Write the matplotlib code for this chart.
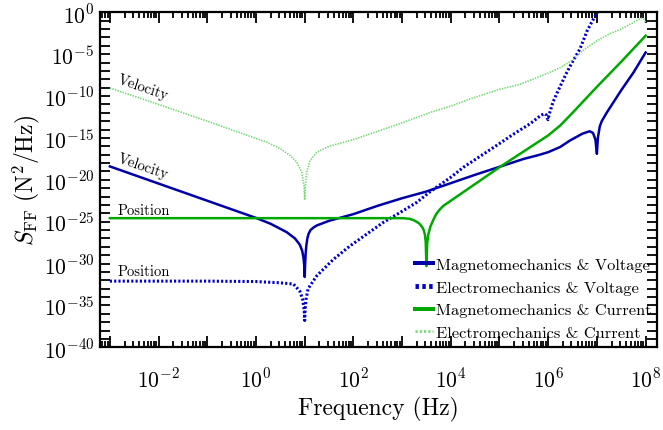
import numpy as np
import matplotlib
matplotlib.use("Agg")
import matplotlib.pyplot as plt
from matplotlib.ticker import FixedLocator, NullFormatter, LogLocator, FixedFormatter

plt.rcParams['font.family'] = 'serif'
plt.rcParams['font.serif'] = ['cmr10']
plt.rcParams['mathtext.fontset'] = 'cm'
plt.rcParams['axes.unicode_minus'] = False
plt.rcParams['axes.formatter.use_mathtext'] = True

# ---- data (log10 of frequency in Hz, log10 of S_FF in N^2/Hz) ----
mv_logf = [-3.0, -2.0, -1.0, 0.0, 0.3, 0.63, 0.8, 0.9, 0.95, 0.975, 0.99, 1.0, 1.01, 1.02, 1.035, 1.055,
           1.08, 1.12, 1.18, 1.25, 1.5, 2.0, 2.5, 3.0, 3.5, 4.0, 4.5, 5.0, 5.5, 5.8, 6.0, 6.24, 6.45, 6.7,
           6.85, 6.92, 6.97, 7.0, 7.02, 7.06, 7.1, 7.2, 7.5, 7.75, 8.0]
mv_logS = [-18.4, -20.45, -22.5, -24.55, -25.25, -26.25, -27.0, -27.75, -28.5, -29.3, -30.2, -31.6, -30.0,
           -28.8, -27.8, -27.0, -26.45, -26.0, -25.7, -25.45, -24.9, -24.1, -23.1, -22.2, -21.4, -20.4,
           -19.4, -18.45, -17.5, -17.05, -16.7, -16.1, -15.3, -14.5, -14.2, -14.4, -15.2, -16.9, -15.0,
           -13.6, -13.0, -12.0, -9.3, -7.2, -4.8]

ev_logf = [-3.0, -2.0, -1.0, 0.0, 0.5, 0.77, 0.9, 0.96, 0.99, 1.0, 1.01, 1.03, 1.07, 1.25, 1.59, 1.93,
           2.27, 2.61, 2.96, 3.3, 3.58, 4.0, 4.26, 4.94, 5.3, 5.63, 5.85, 5.92, 5.96, 5.995, 6.03, 6.1,
           6.2, 6.38, 6.5, 6.65, 6.8, 6.9, 7.0, 7.1]
ev_logS = [-32.1, -32.1, -32.1, -32.15, -32.3, -32.45, -33.3, -34.3, -35.5, -36.8, -35.5, -34.2, -33.0,
           -31.45, -29.5, -27.9, -26.5, -25.1, -23.9, -22.7, -21.4, -19.7, -18.5, -15.9, -14.5, -13.3,
           -12.3, -12.1, -12.25, -12.82, -12.0, -10.7, -9.4, -7.2, -5.9, -4.4, -2.2, -1.1, -0.1, 1.0]

mc_logf = [-3.0, -1.0, 1.0, 3.0, 3.15, 3.25, 3.35, 3.42, 3.45, 3.47, 3.485, 3.5, 3.515, 3.53, 3.54,
           3.58, 3.64, 3.7, 3.78, 3.85, 4.0, 4.5, 5.0, 5.5, 6.0, 6.25, 6.5, 7.0, 7.5, 8.0]
mc_logS = [-24.58, -24.58, -24.58, -24.58, -24.65, -24.85, -25.2, -25.7, -26.1, -26.6, -27.4, -30.3,
           -27.6, -26.9, -26.5, -25.6, -24.8, -24.1, -23.5, -23.1, -22.5, -20.5, -18.5, -16.6, -14.7,
           -13.5, -12.0, -8.9, -5.9, -2.8]

ec_logf = [-3.0, -2.0, -1.0, 0.0, 0.22, 0.49, 0.7, 0.84, 0.94, 0.985, 1.0, 1.015, 1.04, 1.11, 1.25,
           1.5, 2.0, 2.5, 3.0, 3.58, 4.0, 4.39, 5.0, 5.42, 6.0, 6.25, 6.5, 6.75, 7.0, 7.25, 7.5, 7.75,
           7.9, 7.96, 8.0]
ec_logS = [-9.04, -11.0, -13.0, -15.05, -15.5, -16.25, -17.1, -17.9, -19.1, -20.7, -22.4, -20.7, -19.1,
           -17.7, -16.7, -16.0, -15.2, -14.2, -13.2, -11.95, -11.2, -10.35, -9.2, -8.6, -7.25, -6.6,
           -5.7, -4.4, -3.4, -2.6, -2.0, -1.2, -0.7, -0.75, -1.2]

labels = ["Magnetomechanics & Voltage", "Electromechanics & Voltage",
          "Magnetomechanics & Current", "Electromechanics & Current"]

x_label_exps = [-2, 0, 2, 4, 6, 8]
y_label_exps = [-40, -35, -30, -25, -20, -15, -10, -5, 0]

fig = plt.figure(figsize=(6.63, 4.31), dpi=100)
ax = fig.add_axes([0.1508, 0.1919, 0.8397, 0.7772])

def p(a):
    return 10.0 ** np.asarray(a)

ax.loglog(p(mv_logf), p(mv_logS), color='#0000a8', lw=1.8, label=labels[0])
ax.loglog(p(ev_logf), p(ev_logS), color='#0000cc', lw=2.2, ls=(0, (0.7, 0.7)), label=labels[1])
ax.loglog(p(mc_logf), p(mc_logS), color='#00a800', lw=1.8, label=labels[2])
ax.loglog(p(ec_logf), p(ec_logS), color='#6fd86f', lw=1.2, ls=(0, (0.8, 0.8)), label=labels[3])

ax.set_xlim(10 ** -3.203, 10 ** 8.228)
ax.set_ylim(1e-40, 1e0)

# x ticks
xmaj = [10.0 ** k for k in range(-3, 9)]
ax.xaxis.set_major_locator(FixedLocator(xmaj))
ax.xaxis.set_major_formatter(FixedFormatter(
    [r'$10^{%d}$' % k if k in x_label_exps else '' for k in range(-3, 9)]))
ax.xaxis.set_minor_locator(LogLocator(base=10, subs=np.arange(2, 10), numticks=100))
ax.xaxis.set_minor_formatter(NullFormatter())

# y ticks
ymaj = [10.0 ** k for k in range(-40, 1)]
ax.yaxis.set_major_locator(FixedLocator(ymaj))
ax.yaxis.set_major_formatter(FixedFormatter(
    [r'$10^{%d}$' % k if k in y_label_exps else '' for k in range(-40, 1)]))
ax.yaxis.set_minor_locator(FixedLocator([]))

ax.tick_params(which='both', direction='in', top=True, right=True, width=1.3, labelsize=15.5)
ax.tick_params(axis='x', which='major', length=8)
ax.tick_params(axis='x', which='minor', length=4)
ax.tick_params(axis='y', which='major', length=7, pad=4)
ax.tick_params(axis='x', which='major', pad=14)
for s in ax.spines.values():
    s.set_linewidth(1.6)

ax.set_xlabel('Frequency (Hz)', fontsize=17, labelpad=4)
ax.set_ylabel(r'$S_{\mathrm{FF}}\ (\mathrm{N}^2/\mathrm{Hz})$', fontsize=17, labelpad=1)

# annotations
ax.text(10 ** -2.33, 10 ** -8.9, 'Velocity', fontsize=10.5, rotation=-19, ha='center', va='center',
        rotation_mode='anchor')
ax.text(10 ** -2.33, 10 ** -18.35, 'Velocity', fontsize=10.5, rotation=-19, ha='center', va='center',
        rotation_mode='anchor')
ax.text(10 ** -2.85, 10 ** -23.6, 'Position', fontsize=10.5, ha='left', va='center')
ax.text(10 ** -2.85, 10 ** -30.9, 'Position', fontsize=10.5, ha='left', va='center')

leg = ax.legend(loc='lower left', bbox_to_anchor=(0.548, -0.008), frameon=False, fontsize=11.8,
                handlelength=1.1, handletextpad=0.2, labelspacing=0.5, borderaxespad=0.2)
for ln in leg.get_lines():
    ln.set_linewidth(ln.get_linewidth() * 1.6)

fig.savefig('out.png', dpi=100)
